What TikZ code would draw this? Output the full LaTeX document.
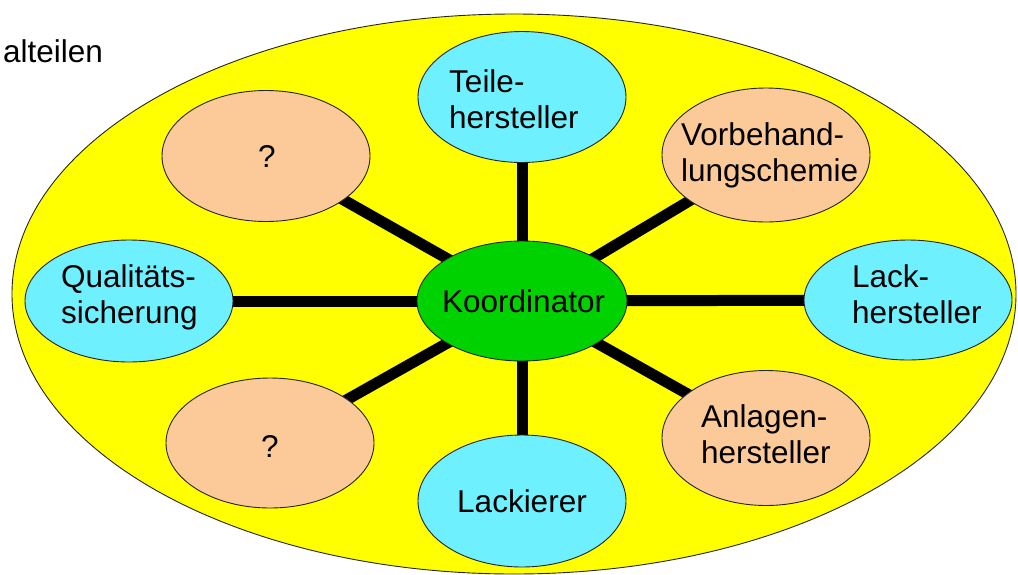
\documentclass[tikz,border=0pt]{standalone}
\usepackage{fontspec}
\setmainfont{Liberation Sans}
\usetikzlibrary{shapes.geometric}
\pgfdeclarelayer{back}
\pgfdeclarelayer{links}
\pgfsetlayers{back,links,main}
\definecolor{fieldyellow}{RGB}{255,255,0}
\definecolor{partcyan}{RGB}{110,240,255}
\definecolor{peach}{RGB}{252,202,152}
\definecolor{coordgreen}{RGB}{0,210,0}
\tikzset{
  blob/.style={ellipse, draw=black!85, line width=0.9pt, inner sep=0pt,
    minimum width=208pt, minimum height=130pt},
  cyanblob/.style={blob, fill=partcyan},
  peachblob/.style={blob, fill=peach},
  txt/.style={inner sep=0pt, anchor=base west, font=\fontsize{31.5}{36}\selectfont, text=black},
  ctxt/.style={txt, anchor=base},
  link/.style={line width=11pt, black}
}
\newcommand{\twolines}[2]{\begin{tabular}[t]{@{}l@{}}#1\\#2\end{tabular}}
\begin{document}
\begin{tikzpicture}[x=1pt,y=-1pt]
\useasboundingbox (0,0) rectangle (1018,574);
% outer field
\begin{pgfonlayer}{back}
\node[ellipse, draw=black!85, line width=0.9pt, fill=fieldyellow, inner sep=0pt,
  minimum width=1004pt, minimum height=560pt] (field) at (514,294) {};
\end{pgfonlayer}
\node[txt] (title) at (3,62) {alteilen};
% nodes
\node[blob, fill=coordgreen, minimum width=210pt, minimum height=120pt] (koord) at (522,301) {};
\node[cyanblob, minimum height=131pt] (teile) at (522,97) {};
\node[peachblob, minimum height=134pt] (vorb) at (766,155) {};
\node[cyanblob, minimum height=120pt] (lack) at (908,300) {};
\node[cyanblob, minimum height=122pt] (qual) at (129,301) {};
\node[peachblob, minimum height=131pt] (q1) at (266,156) {};
\node[peachblob, minimum height=130pt] (q2) at (270,443) {};
\node[peachblob, minimum height=135pt] (anl) at (766,438) {};
\node[cyanblob, minimum height=132pt] (lackierer) at (522,501) {};
% texts
\node[txt] (koordT) at (442,312) {Koordinator};
\node[txt] (teileT) at (449,92) {\twolines{Teile-}{hersteller}};
\node[txt] (vorbT) at (681,145) {\twolines{Vorbehand-}{lungschemie}};
\node[txt] (lackT) at (852,287) {\twolines{Lack-}{hersteller}};
\node[txt] (qualT) at (61,287) {\twolines{Qualitäts-}{sicherung}};
\node[ctxt] (q1T) at (267,167) {?};
\node[ctxt] (q2T) at (270,457) {?};
\node[txt] (anlT) at (701,427) {\twolines{Anlagen-}{hersteller}};
\node[ctxt] (lackiererT) at (522,512) {Lackierer};
% links
\begin{pgfonlayer}{links}
\foreach \n in {teile,vorb,lack,anl,lackierer,q2,qual,q1}
  \draw[link] (koord.center) -- (\n.center);
\end{pgfonlayer}
\end{tikzpicture}
\end{document}
